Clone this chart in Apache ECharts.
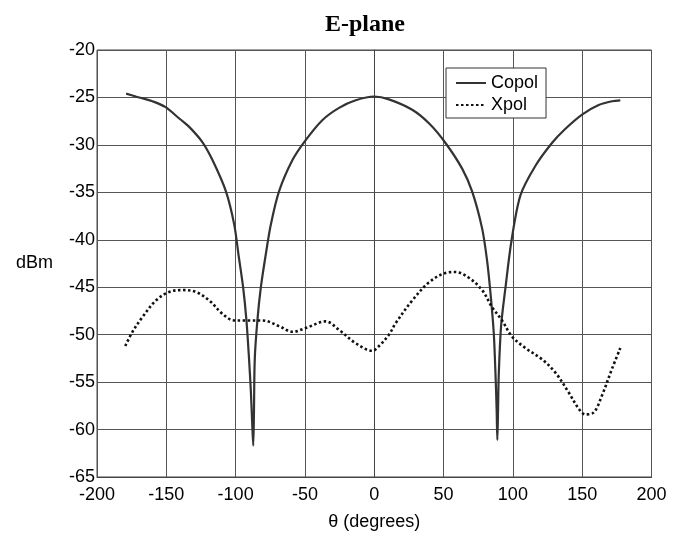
<!DOCTYPE html>
<html>
<head>
<meta charset="utf-8">
<script src="https://cdn.jsdelivr.net/npm/echarts@6/dist/echarts.min.js"></script>
<style>html,body{margin:0;padding:0;background:#fff;}#c{width:674px;height:536px;}</style>
</head>
<body>
<div id="c"></div>
<script>
const xTicks = [-200,-150,-100,-50,0,50,100,150,200];
const yTicks = [-65,-60,-55,-50,-45,-40,-35,-30,-25,-20];
const copolTheta = [-179,-172,-167,-160,-150.8,-140,-133.5,-124,-116.7,-107,-101,-98,-94.6,-92.2,-90.3,-89,-88,-87.3,-86.8,-86.2,-84.3,-81.8,-78.2,-74.6,-68.7,-59,-50,-37.5,-25.4,-13.4,0,10.6,27.4,40,51.4,63.4,70.6,77.8,81.4,83.9,86.2,87.5,88.3,88.8,89.3,89.8,91.5,94.7,99,105.5,116.3,128.2,137.9,149.9,161.9,171.5,177.5];
const copolDb = [-24.6,-24.9,-25.1,-25.4,-26.0,-27.3,-28.1,-29.7,-31.6,-34.9,-38.4,-41.5,-45,-48.5,-52.6,-56,-59.5,-61.7,-58.5,-52.6,-48.5,-45,-41.5,-38.4,-34.9,-31.6,-29.6,-27.4,-26.1,-25.3,-24.9,-25.2,-26.3,-27.8,-29.8,-32.5,-34.9,-38.8,-42.2,-45.7,-49.8,-54.3,-58,-61.1,-58,-54.3,-49.1,-45,-40.1,-35.3,-32.2,-29.8,-28.3,-26.8,-25.8,-25.4,-25.3];
const xpolTheta = [-179.6,-174.4,-167,-157.5,-148,-138.3,-128.7,-119,-109.5,-101,-90,-80.7,-68.7,-59,-49.4,-35,-25.4,-13.4,-1.4,3.4,10.6,15.4,27.4,39.4,51.4,58.6,68.2,77.8,85,92.2,99.4,109,121,130.7,140.3,147.5,152.3,158.3,164.3,171.5,177.5];
const xpolDb = [-51.2,-49.7,-48.1,-46.4,-45.5,-45.3,-45.5,-46.4,-47.8,-48.5,-48.5,-48.5,-49.1,-49.7,-49.3,-48.6,-49.5,-50.9,-51.7,-51.2,-50,-48.8,-46.4,-44.5,-43.5,-43.4,-44,-45.3,-47.1,-48.5,-50.2,-51.4,-52.6,-54,-56.1,-57.8,-58.4,-58.2,-56.4,-53.6,-51.4];

const copol = copolTheta.map((t,i)=>[t,copolDb[i]]);
const xpol = xpolTheta.map((t,i)=>[t,xpolDb[i]]);
const FONT = '"Liberation Sans", Arial, sans-serif';

const chart = echarts.init(document.getElementById('c'), null, {renderer:'canvas'});
chart.setOption({
  animation:false,
  backgroundColor:'#fff',
  title:{
    text:'E-plane', left:320, top:8,
    textStyle:{fontFamily:'"Liberation Serif", "Times New Roman", serif', fontWeight:'bold', fontSize:24, color:'#000'}
  },
  legend:{
    orient:'vertical', left:446, top:68,
    backgroundColor:'#fff', borderColor:'#333', borderWidth:1,
    padding:[6,8,4,9], itemGap:4, itemWidth:30, itemHeight:14,
    itemStyle:{opacity:0},
    textStyle:{fontFamily:FONT, fontSize:18, color:'#000'},
    data:['Copol','Xpol']
  },
  grid:{left:97, right:22.5, top:50, bottom:53.5, show:true, borderColor:'#444', borderWidth:1},
  xAxis:{
    type:'value', min:xTicks[0], max:xTicks[xTicks.length-1], interval:50,
    name:'θ (degrees)', nameLocation:'middle', nameGap:36,
    nameTextStyle:{fontFamily:FONT, fontSize:18, color:'#000'},
    axisLine:{show:true, lineStyle:{color:'#444', width:1}},
    axisTick:{show:false},
    axisLabel:{fontFamily:FONT, fontSize:18, color:'#000', margin:9},
    splitLine:{show:true, lineStyle:{color:'#555', width:1}}
  },
  yAxis:{
    type:'value', min:yTicks[0], max:yTicks[yTicks.length-1], interval:5,
    name:'dBm', nameLocation:'middle', nameRotate:0, nameGap:44,
    nameTextStyle:{fontFamily:FONT, fontSize:18, color:'#000', align:'right'},
    axisLine:{show:true, lineStyle:{color:'#444', width:1}},
    axisTick:{show:false},
    axisLabel:{fontFamily:FONT, fontSize:18, color:'#000', margin:2, padding:[6,0,0,0]},
    splitLine:{show:true, lineStyle:{color:'#555', width:1}}
  },
  series:[
    {name:'Copol', type:'line', data:copol, symbol:'none', smooth:0.3,
     lineStyle:{color:'#333', width:2.2, type:'solid'}, itemStyle:{color:'#333'}},
    {name:'Xpol', type:'line', data:xpol, symbol:'none', smooth:0.35,
     lineStyle:{color:'#111', width:2.6, type:[2.5,2.5]}, itemStyle:{color:'#111'}}
  ]
});
</script>
</body>
</html>
